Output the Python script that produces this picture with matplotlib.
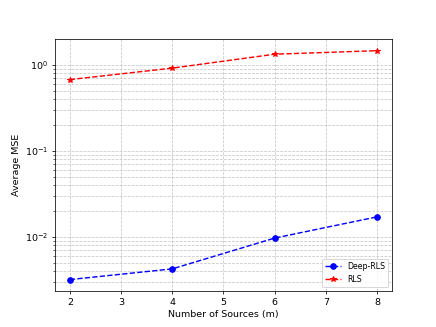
import matplotlib
matplotlib.use("Agg")
import matplotlib.pyplot as plt

num_sources = [2, 4, 6, 8]
mse_deep_rls = [0.0032, 0.00426, 0.0097, 0.0171]
mse_rls = [0.67, 0.91, 1.32, 1.45]

fig, ax = plt.subplots(figsize=(6.4, 4.8))
ax.semilogy(num_sources, mse_deep_rls, "b--o", label="Deep-RLS")
ax.semilogy(num_sources, mse_rls, "r--*", label="RLS")
ax.set_xlabel("Number of Sources (m)")
ax.set_ylabel("Average MSE")
ax.grid(True, which="both", linestyle="--", alpha=0.7)
ax.legend(loc="lower right", fontsize="small")

fig.savefig("out.png", dpi=68.125)
